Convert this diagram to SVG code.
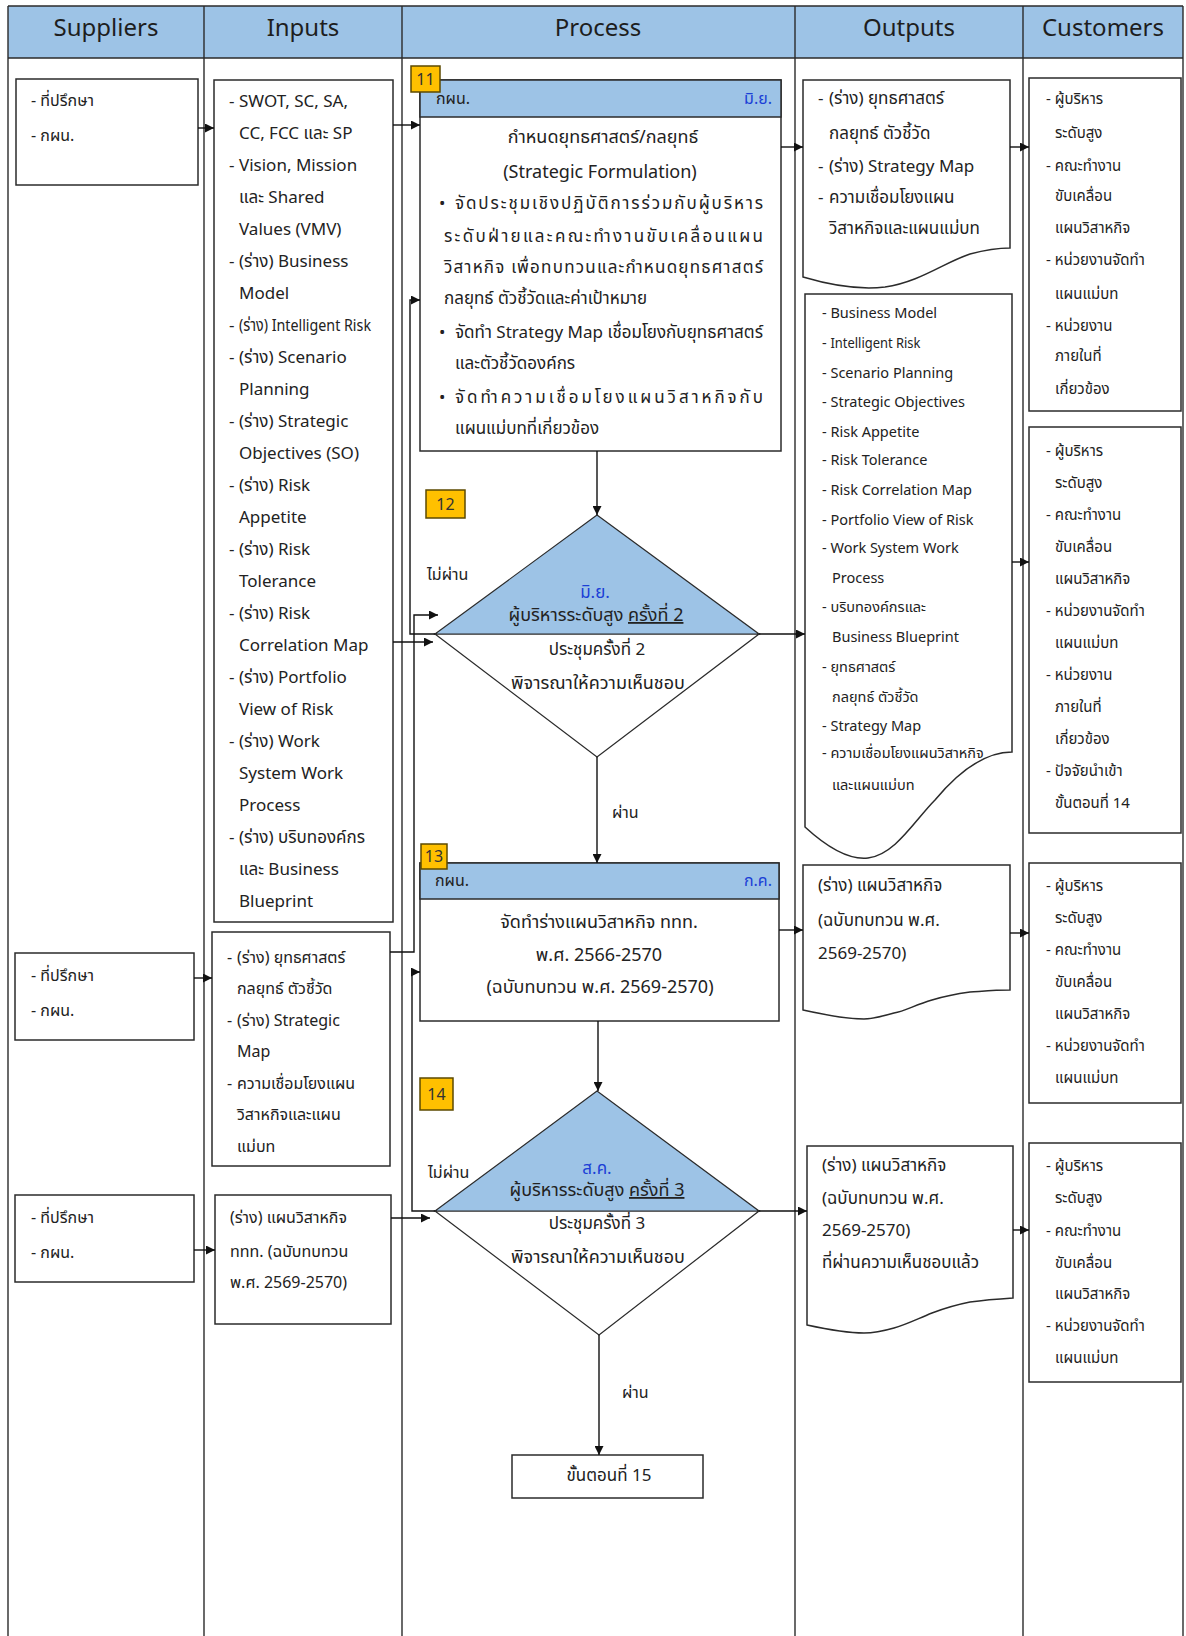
<svg xmlns="http://www.w3.org/2000/svg" width="1186" height="1636" viewBox="0 0 1186 1636">
  <defs>
    <marker id="arr" viewBox="0 0 10 10" refX="10" refY="5" markerWidth="10" markerHeight="9" markerUnits="userSpaceOnUse" orient="auto">
      <path d="M0,0 L10,5 L0,10 z" fill="#111"/>
    </marker>
    <style>
      text { font-family: "Noto Sans", "Noto Sans Thai", Tahoma, "DejaVu Sans", sans-serif; fill: #222; font-size: 16px; }
      .hd { font-size: 24px; text-anchor: middle; fill: #1e1e1e; }
      .sm { font-size: 14.5px; }
      .f15 { font-size: 15px; }
      .f17 { font-size: 17px; }
      .f18 { font-size: 18px; }
      .c { text-anchor: middle; }
      .r { text-anchor: end; }
      .blue { fill: #1b3fd6; }
      .grid { stroke: #2b2b2b; stroke-width: 1.4; fill: none; }
      .box { fill: #ffffff; stroke: #2b2b2b; stroke-width: 1.5; }
      .bar { fill: #9dc3e6; stroke: #2b2b2b; stroke-width: 1.5; }
      .badge { fill: #ffc000; stroke: #5c4a00; stroke-width: 1.5; }
      .bt { font-size: 16px; text-anchor: middle; fill: #333; }
      .dia { fill: #ffffff; stroke: #2b2b2b; stroke-width: 1.2; }
      .diatop { fill: #9dc3e6; stroke: #2b2b2b; stroke-width: 1.2; }
      .conn path { fill: none; stroke: #111; stroke-width: 1.4; marker-end: url(#arr); }
    </style>
  </defs>

  <rect width="1186" height="1636" fill="#ffffff"/>

  <!-- swimlane frame and column headers -->
  <g id="frame">
    <rect x="8" y="6" width="1175" height="52" fill="#9dc3e6"/>
    <path class="grid" d="M8,6 H1183 M8,58 H1183 M8,6 V1636 M204,6 V1636 M402,6 V1636 M795,6 V1636 M1023,6 V1636 M1183,6 V1636"/>
    <text class="hd" x="106" y="36">Suppliers</text>
    <text class="hd" x="303" y="36">Inputs</text>
    <text class="hd" x="598" y="36">Process</text>
    <text class="hd" x="909" y="36">Outputs</text>
    <text class="hd" x="1103" y="36">Customers</text>
  </g>

  <!-- suppliers -->
  <g id="supplier-1">
    <rect class="box" x="16" y="79" width="182" height="106"/>
    <text x="31" y="106">- ที่ปรึกษา</text>
    <text x="31" y="141">- กผน.</text>
  </g>
  <g id="supplier-2">
    <rect class="box" x="15" y="953" width="179" height="87"/>
    <text x="31" y="981">- ที่ปรึกษา</text>
    <text x="31" y="1016">- กผน.</text>
  </g>
  <g id="supplier-3">
    <rect class="box" x="15" y="1195" width="179" height="87"/>
    <text x="31" y="1223">- ที่ปรึกษา</text>
    <text x="31" y="1258">- กผน.</text>
  </g>

  <!-- inputs -->
  <g id="input-1" class="f17">
    <rect class="box" x="214" y="80" width="179" height="842"/>
    <text class="f17" x="229" y="107">-</text><text class="f17" x="239" y="107">SWOT, SC, SA,</text>
    <text class="f17" x="239" y="139">CC, FCC และ SP</text>
    <text class="f17" x="229" y="171">-</text><text class="f17" x="239" y="171">Vision, Mission</text>
    <text class="f17" x="239" y="203">และ Shared</text>
    <text class="f17" x="239" y="235">Values (VMV)</text>
    <text class="f17" x="229" y="267">-</text><text class="f17" x="239" y="267">(ร่าง) Business</text>
    <text class="f17" x="239" y="299">Model</text>
    <text class="f17" x="229" y="331">-</text><text class="f17" x="239" y="331" textLength="132" lengthAdjust="spacingAndGlyphs">(ร่าง) Intelligent Risk</text>
    <text class="f17" x="229" y="363">-</text><text class="f17" x="239" y="363">(ร่าง) Scenario</text>
    <text class="f17" x="239" y="395">Planning</text>
    <text class="f17" x="229" y="427">-</text><text class="f17" x="239" y="427">(ร่าง) Strategic</text>
    <text class="f17" x="239" y="459">Objectives (SO)</text>
    <text class="f17" x="229" y="491">-</text><text class="f17" x="239" y="491">(ร่าง) Risk</text>
    <text class="f17" x="239" y="523">Appetite</text>
    <text class="f17" x="229" y="555">-</text><text class="f17" x="239" y="555">(ร่าง) Risk</text>
    <text class="f17" x="239" y="587">Tolerance</text>
    <text class="f17" x="229" y="619">-</text><text class="f17" x="239" y="619">(ร่าง) Risk</text>
    <text class="f17" x="239" y="651">Correlation Map</text>
    <text class="f17" x="229" y="683">-</text><text class="f17" x="239" y="683">(ร่าง) Portfolio</text>
    <text class="f17" x="239" y="715">View of Risk</text>
    <text class="f17" x="229" y="747">-</text><text class="f17" x="239" y="747">(ร่าง) Work</text>
    <text class="f17" x="239" y="779">System Work</text>
    <text class="f17" x="239" y="811">Process</text>
    <text class="f17" x="229" y="843">-</text><text class="f17" x="239" y="843">(ร่าง) บริบทองค์กร</text>
    <text class="f17" x="239" y="875">และ Business</text>
    <text class="f17" x="239" y="907">Blueprint</text>
  </g>
  <g id="input-2">
    <rect class="box" x="212" y="932" width="178" height="234"/>
    <text x="227" y="963">-</text><text x="237" y="963">(ร่าง) ยุทธศาสตร์</text>
    <text x="237" y="994">กลยุทธ์ ตัวชี้วัด</text>
    <text x="227" y="1026">-</text><text x="237" y="1026">(ร่าง) Strategic</text>
    <text x="237" y="1057">Map</text>
    <text x="227" y="1089">-</text><text x="237" y="1089">ความเชื่อมโยงแผน</text>
    <text x="237" y="1120">วิสาหกิจและแผน</text>
    <text x="237" y="1152">แม่บท</text>
  </g>
  <g id="input-3">
    <rect class="box" x="215" y="1195" width="176" height="129"/>
    <text x="230" y="1223">(ร่าง) แผนวิสาหกิจ</text>
    <text x="230" y="1257">ททท. (ฉบับทบทวน</text>
    <text x="230" y="1288">พ.ศ. 2569-2570)</text>
  </g>

  <!-- process -->
  <g id="step-11">
    <rect class="box" x="420" y="80" width="361" height="371"/>
    <rect class="bar" x="420" y="80" width="361" height="37"/>
    <text x="436" y="104">กผน.</text>
    <text class="r blue" x="772" y="104">มิ.ย.</text>
    <text class="c f18" x="603" y="143">กำหนดยุทธศาสตร์/กลยุทธ์</text>
    <text class="c f18" x="600" y="178">(Strategic Formulation)</text>
    <text class="f17" x="439" y="209">•</text>
    <text class="f17" x="455" y="209" textLength="308" lengthAdjust="spacing">จัดประชุมเชิงปฏิบัติการร่วมกับผู้บริหาร</text>
    <text class="f17" x="444" y="242" textLength="319" lengthAdjust="spacing">ระดับฝ่ายและคณะทำงานขับเคลื่อนแผน</text>
    <text class="f17" x="444" y="273" textLength="319" lengthAdjust="spacing">วิสาหกิจ เพื่อทบทวนและกำหนดยุทธศาสตร์</text>
    <text class="f17" x="444" y="304">กลยุทธ์ ตัวชี้วัดและค่าเป้าหมาย</text>
    <text class="f17" x="439" y="338">•</text>
    <text class="f17" x="455" y="338" textLength="308" lengthAdjust="spacing">จัดทำ Strategy Map เชื่อมโยงกับยุทธศาสตร์</text>
    <text class="f17" x="455" y="369">และตัวชี้วัดองค์กร</text>
    <text class="f17" x="439" y="403">•</text>
    <text class="f17" x="455" y="403" textLength="308" lengthAdjust="spacing">จัดทำความเชื่อมโยงแผนวิสาหกิจกับ</text>
    <text class="f17" x="455" y="434">แผนแม่บทที่เกี่ยวข้อง</text>
    <rect class="badge" x="411" y="66" width="29" height="26"/>
    <text class="bt" x="425.5" y="85">11</text>
  </g>

  <g id="step-12">
    <polygon class="dia" points="435,634 597,757 759,634"/>
    <polygon class="diatop" points="435,634 597,515 759,634"/>
    <rect class="badge" x="426" y="490" width="39" height="28"/>
    <text class="bt" x="445.5" y="510">12</text>
    <text class="c blue f17" x="595" y="598">มิ.ย.</text>
    <text class="c f18" x="596" y="621">ผู้บริหารระดับสูง <tspan text-decoration="underline">ครั้งที่ 2</tspan></text>
    <text class="c f17" x="597" y="655">ประชุมครั้งที่ 2</text>
    <text class="c f18" x="598" y="689">พิจารณาให้ความเห็นชอบ</text>
  </g>

  <g id="step-13">
    <rect class="box" x="420" y="863" width="359" height="158"/>
    <rect class="bar" x="420" y="863" width="359" height="36"/>
    <text x="435" y="886">กผน.</text>
    <text class="r blue" x="772" y="886">ก.ค.</text>
    <text class="c f18" x="599" y="928">จัดทำร่างแผนวิสาหกิจ ททท.</text>
    <text class="c f18" x="599" y="961">พ.ศ. 2566-2570</text>
    <text class="c f18" x="600" y="993">(ฉบับทบทวน พ.ศ. 2569-2570)</text>
    <rect class="badge" x="421" y="844" width="26" height="25"/>
    <text class="bt" x="434" y="862">13</text>
  </g>

  <g id="step-14">
    <polygon class="dia" points="435,1211 599,1335 759,1211"/>
    <polygon class="diatop" points="435,1211 597,1091 759,1211"/>
    <rect class="badge" x="420" y="1078" width="33" height="32"/>
    <text class="bt" x="436.5" y="1100">14</text>
    <text class="c blue f17" x="597" y="1174">ส.ค.</text>
    <text class="c f18" x="597" y="1196">ผู้บริหารระดับสูง <tspan text-decoration="underline">ครั้งที่ 3</tspan></text>
    <text class="c f17" x="597" y="1229">ประชุมครั้งที่ 3</text>
    <text class="c f18" x="598" y="1263">พิจารณาให้ความเห็นชอบ</text>
  </g>

  <g id="step-15">
    <rect class="box" x="512" y="1455" width="191" height="43"/>
    <text class="c f17" x="609" y="1481">ขั้นตอนที่ 15</text>
  </g>

  <!-- outputs (document shapes) -->
  <g id="output-1">
    <path class="box" d="M803,80 H1010 V248 C998,248 985,250 970,254 C945,262 920,282 885,287 C860,290 830,285 803,277 Z"/>
    <text class="f17" x="818" y="104">-</text><text class="f17" x="829" y="104">(ร่าง) ยุทธศาสตร์</text>
    <text class="f17" x="829" y="139">กลยุทธ์ ตัวชี้วัด</text>
    <text class="f17" x="818" y="172">-</text><text class="f17" x="829" y="172">(ร่าง) Strategy Map</text>
    <text class="f17" x="818" y="203">-</text><text class="f17" x="829" y="203">ความเชื่อมโยงแผน</text>
    <text class="f17" x="829" y="234">วิสาหกิจและแผนแม่บท</text>
  </g>
  <g id="output-2">
    <path class="box" d="M805,294 H1012 V752 C985,752 960,770 935,800 C915,820 895,855 868,858 C850,860 830,850 805,827 Z"/>
    <text class="sm" x="822" y="318">- Business Model</text>
    <text class="sm" x="822" y="348">- <tspan textLength="90" lengthAdjust="spacingAndGlyphs">Intelligent Risk</tspan></text>
    <text class="sm" x="822" y="378">- Scenario Planning</text>
    <text class="sm" x="822" y="407">- Strategic Objectives</text>
    <text class="sm" x="822" y="437">- Risk Appetite</text>
    <text class="sm" x="822" y="465">- Risk Tolerance</text>
    <text class="sm" x="822" y="495">- Risk Correlation Map</text>
    <text class="sm" x="822" y="525">- Portfolio View of Risk</text>
    <text class="sm" x="822" y="553">- Work System Work</text>
    <text class="sm" x="832" y="583">Process</text>
    <text class="sm" x="822" y="612">- บริบทองค์กรและ</text>
    <text class="sm" x="832" y="642">Business Blueprint</text>
    <text class="sm" x="822" y="672">- ยุทธศาสตร์</text>
    <text class="sm" x="832" y="702">กลยุทธ์ ตัวชี้วัด</text>
    <text class="sm" x="822" y="731">- Strategy Map</text>
    <text class="sm" x="822" y="758">- ความเชื่อมโยงแผนวิสาหกิจ</text>
    <text class="sm" x="832" y="790">และแผนแม่บท</text>
  </g>
  <g id="output-3">
    <path class="box" d="M803,865 H1010 V990 C995,990 985,991 970,992 C955,994 945,996 932,1000 C915,1005 905,1011 894,1013 C880,1017 870,1019 864,1019 C850,1019 830,1016 803,1010 Z"/>
    <text class="f17" x="818" y="891">(ร่าง) แผนวิสาหกิจ</text>
    <text class="f17" x="818" y="926">(ฉบับทบทวน พ.ศ.</text>
    <text class="f17" x="818" y="959">2569-2570)</text>
  </g>
  <g id="output-4">
    <path class="box" d="M807,1146 H1013 V1298 C998,1299 985,1300 970,1302 C955,1305 945,1308 932,1313 C915,1320 905,1325 894,1328 C880,1332 870,1333 864,1333 C850,1333 830,1330 807,1325 Z"/>
    <text class="f17" x="822" y="1171">(ร่าง) แผนวิสาหกิจ</text>
    <text class="f17" x="822" y="1204">(ฉบับทบทวน พ.ศ.</text>
    <text class="f17" x="822" y="1236">2569-2570)</text>
    <text class="f17" x="822" y="1268">ที่ผ่านความเห็นชอบแล้ว</text>
  </g>

  <!-- customers -->
  <g id="customer-1">
    <rect class="box" x="1029" y="78" width="152" height="333"/>
    <text class="f15" x="1046" y="104">- ผู้บริหาร</text>
    <text class="f15" x="1055" y="138">ระดับสูง</text>
    <text class="f15" x="1046" y="171">- คณะทำงาน</text>
    <text class="f15" x="1055" y="201">ขับเคลื่อน</text>
    <text class="f15" x="1055" y="233">แผนวิสาหกิจ</text>
    <text class="f15" x="1046" y="265">- หน่วยงานจัดทำ</text>
    <text class="f15" x="1055" y="299">แผนแม่บท</text>
    <text class="f15" x="1046" y="331">- หน่วยงาน</text>
    <text class="f15" x="1055" y="361">ภายในที่</text>
    <text class="f15" x="1055" y="394">เกี่ยวข้อง</text>
  </g>
  <g id="customer-2">
    <rect class="box" x="1029" y="427" width="152" height="406"/>
    <text class="f15" x="1046" y="456">- ผู้บริหาร</text>
    <text class="f15" x="1055" y="488">ระดับสูง</text>
    <text class="f15" x="1046" y="520">- คณะทำงาน</text>
    <text class="f15" x="1055" y="552">ขับเคลื่อน</text>
    <text class="f15" x="1055" y="584">แผนวิสาหกิจ</text>
    <text class="f15" x="1046" y="616">- หน่วยงานจัดทำ</text>
    <text class="f15" x="1055" y="648">แผนแม่บท</text>
    <text class="f15" x="1046" y="680">- หน่วยงาน</text>
    <text class="f15" x="1055" y="712">ภายในที่</text>
    <text class="f15" x="1055" y="744">เกี่ยวข้อง</text>
    <text class="f15" x="1046" y="776">- ปัจจัยนำเข้า</text>
    <text class="f15" x="1055" y="808">ขั้นตอนที่ 14</text>
  </g>
  <g id="customer-3">
    <rect class="box" x="1029" y="863" width="152" height="240"/>
    <text class="f15" x="1046" y="891">- ผู้บริหาร</text>
    <text class="f15" x="1055" y="923">ระดับสูง</text>
    <text class="f15" x="1046" y="955">- คณะทำงาน</text>
    <text class="f15" x="1055" y="987">ขับเคลื่อน</text>
    <text class="f15" x="1055" y="1019">แผนวิสาหกิจ</text>
    <text class="f15" x="1046" y="1051">- หน่วยงานจัดทำ</text>
    <text class="f15" x="1055" y="1083">แผนแม่บท</text>
  </g>
  <g id="customer-4">
    <rect class="box" x="1029" y="1143" width="152" height="239"/>
    <text class="f15" x="1046" y="1171">- ผู้บริหาร</text>
    <text class="f15" x="1055" y="1203">ระดับสูง</text>
    <text class="f15" x="1046" y="1236">- คณะทำงาน</text>
    <text class="f15" x="1055" y="1268">ขับเคลื่อน</text>
    <text class="f15" x="1055" y="1299">แผนวิสาหกิจ</text>
    <text class="f15" x="1046" y="1331">- หน่วยงานจัดทำ</text>
    <text class="f15" x="1055" y="1363">แผนแม่บท</text>
  </g>

  <!-- connectors -->
  <g id="connectors" class="conn">
    <path d="M198,128 H214"/>
    <path d="M393,125 H420"/>
    <path d="M781,147 H803"/>
    <path d="M1010,147 H1029"/>
    <path d="M597,451 V515"/>
    <path d="M435,634 H410 V300 H420"/>
    <path d="M393,642 H433"/>
    <path d="M390,952 H414 V615 H438"/>
    <path d="M759,634 H805"/>
    <path d="M1012,562 H1029"/>
    <path d="M597,757 V863"/>
    <path d="M779,930 H803"/>
    <path d="M1010,933 H1029"/>
    <path d="M194,978 H212"/>
    <path d="M598,1021 V1091"/>
    <path d="M435,1211 H412 V972 H420"/>
    <path d="M391,1218 H430"/>
    <path d="M194,1250 H215"/>
    <path d="M759,1211 H807"/>
    <path d="M1013,1230 H1029"/>
    <path d="M599,1335 V1455"/>
  </g>

  <!-- branch labels -->
  <g id="labels">
    <text x="427" y="580">ไม่ผ่าน</text>
    <text x="612" y="818">ผ่าน</text>
    <text x="428" y="1178">ไม่ผ่าน</text>
    <text x="622" y="1398">ผ่าน</text>
  </g>
</svg>
